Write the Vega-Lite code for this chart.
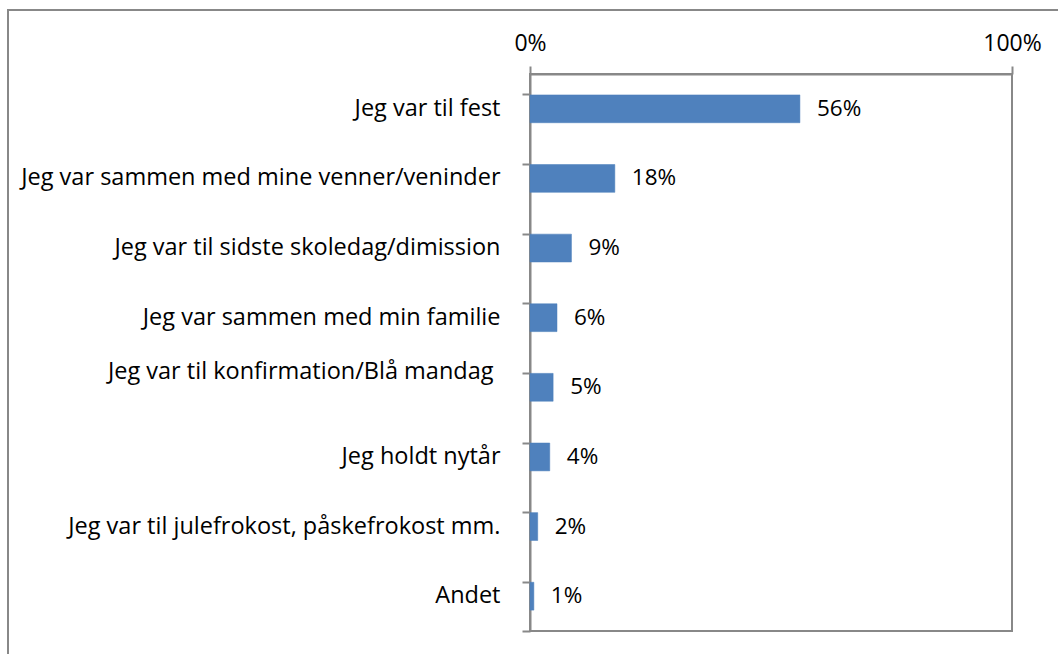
{
  "$schema": "https://vega.github.io/schema/vega-lite/v6.json",
  "width": 1060,
  "height": 660,
  "autosize": "none",
  "padding": {"left": 8, "top": 10, "right": 0, "bottom": 0},
  "background": "white",
  "config": {
    "view": {"stroke": "#888888", "strokeWidth": 2},
    "font": "Open Sans",
    "axis": {"labelFont": "Open Sans", "labelColor": "#000000", "domainColor": "#888888", "tickColor": "#888888", "domainWidth": 2, "tickWidth": 2}
  },
  "datasets": {
    "answers": [
      {"svar": "Jeg var til fest", "andel": 0.56},
      {"svar": "Jeg var sammen med mine venner/veninder", "andel": 0.176},
      {"svar": "Jeg var til sidste skoledag/dimission", "andel": 0.086},
      {"svar": "Jeg var sammen med min familie", "andel": 0.056},
      {"svar": "Jeg var til konfirmation/Blå mandag", "andel": 0.048},
      {"svar": "Jeg holdt nytår", "andel": 0.041},
      {"svar": "Jeg var til julefrokost, påskefrokost mm.", "andel": 0.016},
      {"svar": "Andet", "andel": 0.008}
    ],
    "frame": [{"lo": 0, "hi": 1}]
  },
  "layer": [
    {
      "data": {"name": "frame"},
      "mark": {"type": "rect", "fill": null, "stroke": "#888888", "strokeWidth": 2},
      "encoding": {
        "x": {
          "field": "lo", "type": "quantitative",
          "scale": {"domain": [0, 1], "range": [522, 1004], "nice": false, "zero": false},
          "axis": {
            "orient": "top", "offset": -64, "values": [0, 1], "format": ".0%",
            "tickSize": 8, "labelPadding": 11, "labelFontSize": 23, "labelFlush": false, "labelOverlap": false, "grid": false, "title": null
          }
        },
        "x2": {"field": "hi"},
        "y": {
          "field": "lo", "type": "quantitative",
          "scale": {"domain": [0, 1], "range": [621, 64], "nice": false, "zero": false},
          "axis": {
            "orient": "right", "offset": -546, "values": [0], "labels": false, "domain": false,
            "tickSize": 8, "grid": false, "title": null
          }
        },
        "y2": {"field": "hi"}
      }
    },
    {
      "data": {"name": "answers"},
      "encoding": {
        "y": {
          "field": "svar", "type": "nominal", "sort": null,
          "scale": {"range": [64, 621], "paddingInner": 0.6, "paddingOuter": 0.3},
          "axis": {
            "orient": "left", "offset": -522, "bandPosition": 0, "tickSize": 8,
            "labelPadding": {"condition": {"test": "datum.value == 'Jeg var til konfirmation/Blå mandag'", "value": 29}, "value": 22},
            "labelOffset": {"condition": {"test": "datum.value == 'Jeg var til konfirmation/Blå mandag'", "value": -15}, "value": 0},
            "labelFontSize": 23.5, "labelLimit": 600,
            "title": null
          }
        },
        "x": {"field": "andel", "type": "quantitative"}
      },
      "layer": [
        {"mark": {"type": "bar", "color": "#4F81BD", "stroke": "#4A7EBB", "strokeWidth": 0.5}},
        {
          "mark": {"type": "text", "align": "left", "baseline": "middle", "dx": 17, "fontSize": 22.5, "color": "#000000", "font": "Open Sans"},
          "encoding": {"text": {"field": "andel", "type": "quantitative", "format": ".0%"}}
        }
      ]
    }
  ],
  "resolve": {"scale": {"y": "independent"}, "axis": {"y": "independent"}}
}
